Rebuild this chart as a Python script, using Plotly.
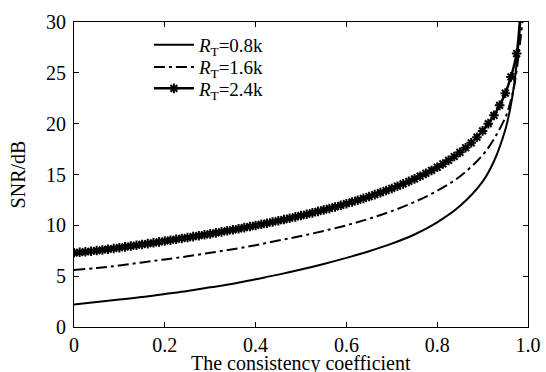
import plotly.graph_objects as go

# --- data ---
rho_solid = [0, 0.05, 0.1, 0.15, 0.2, 0.25, 0.3, 0.35, 0.4, 0.45, 0.5, 0.55, 0.6, 0.65,
             0.7, 0.75, 0.8, 0.85, 0.9, 0.925, 0.95, 0.96, 0.97, 0.98, 0.985]
snr_08k = [2.2, 2.45, 2.7, 2.95, 3.25, 3.55, 3.9, 4.25, 4.7, 5.15, 5.65, 6.2, 6.8, 7.45,
           8.2, 9.1, 10.3, 11.9, 14.3, 16.3, 19.4, 21.3, 24.0, 28.3, 31.0]

rho_dash = [0, 0.05, 0.1, 0.15, 0.2, 0.25, 0.3, 0.35, 0.4, 0.45, 0.5, 0.55, 0.6, 0.65,
            0.7, 0.75, 0.8, 0.85, 0.9, 0.925, 0.95, 0.96, 0.97, 0.98, 0.99]
snr_16k = [5.6, 5.8, 6.05, 6.35, 6.65, 6.95, 7.3, 7.65, 8.05, 8.5, 8.95, 9.45, 10.0, 10.65,
           11.4, 12.3, 13.4, 14.8, 16.9, 18.5, 20.6, 21.9, 23.8, 27.0, 31.0]

rho_star = [0.0, 0.0125, 0.025, 0.0375, 0.05, 0.0625, 0.075, 0.0875, 0.1, 0.1125, 0.125,
            0.1375, 0.15, 0.1625, 0.175, 0.1875, 0.2, 0.2125, 0.225, 0.2375, 0.25, 0.2625,
            0.275, 0.2875, 0.3, 0.3125, 0.325, 0.3375, 0.35, 0.3625, 0.375, 0.3875, 0.4,
            0.4125, 0.425, 0.4375, 0.45, 0.4625, 0.475, 0.4875, 0.5, 0.5125, 0.525, 0.5375,
            0.55, 0.5625, 0.575, 0.5875, 0.6, 0.6125, 0.625, 0.6375, 0.65, 0.6625, 0.675,
            0.6875, 0.7, 0.7125, 0.725, 0.7375, 0.75, 0.7625, 0.775, 0.7875, 0.8, 0.8125,
            0.825, 0.8375, 0.85, 0.8625, 0.875, 0.8875, 0.9, 0.9125, 0.925, 0.9375, 0.95,
            0.9625, 0.975, 0.9825]
snr_24k = [7.30, 7.35, 7.40, 7.45, 7.52, 7.58, 7.65, 7.72, 7.80, 7.88, 7.96,
           8.04, 8.12, 8.20, 8.28, 8.37, 8.46, 8.54, 8.63, 8.71, 8.80, 8.89,
           8.98, 9.07, 9.16, 9.26, 9.36, 9.46, 9.56, 9.66, 9.77, 9.88, 9.99,
           10.10, 10.21, 10.33, 10.45, 10.57, 10.70, 10.83, 10.96, 11.09, 11.23, 11.37,
           11.51, 11.66, 11.81, 11.97, 12.13, 12.30, 12.47, 12.65, 12.83, 13.02, 13.22,
           13.42, 13.63, 13.85, 14.08, 14.32, 14.57, 14.83, 15.11, 15.40, 15.71, 16.04,
           16.39, 16.77, 17.18, 17.63, 18.12, 18.67, 19.29, 20.00, 20.82, 21.80, 23.00,
           24.60, 26.90, 30.5]

names = ["<i>R</i><sub>T</sub>=0.8k", "<i>R</i><sub>T</sub>=1.6k", "<i>R</i><sub>T</sub>=2.4k"]
x_tickvals = [0, 0.2, 0.4, 0.6, 0.8, 1.0]
x_ticktext = ["0", "0.2", "0.4", "0.6", "0.8", "1.0"]
y_tickvals = [0, 5, 10, 15, 20, 25, 30]
x_title = "The consistency coefficient"
y_title = "SNR/dB"

FONT = "Liberation Serif, Times New Roman, serif"
FS = 20

fig = go.Figure()
fig.add_trace(go.Scatter(x=rho_solid, y=snr_08k, mode="lines", name=names[0], legend="legend",
                         line=dict(color="black", width=2, shape="spline")))
fig.add_trace(go.Scatter(x=rho_dash, y=snr_16k, mode="lines", name=names[1], legend="legend2",
                         line=dict(color="black", width=2, dash="11px,4px,3px,4px", shape="spline")))
fig.add_trace(go.Scatter(x=rho_star, y=snr_24k, mode="lines+markers", name=names[2], legend="legend3",
                         line=dict(color="black", width=2.5, shape="spline"),
                         marker=dict(symbol="asterisk-open", size=8, color="black",
                                     line=dict(color="black", width=2))))

leg_common = dict(x=0.165, xanchor="left", yanchor="middle", bgcolor="rgba(0,0,0,0)",
                  font=dict(family=FONT, size=19, color="black"), itemwidth=40,
                  borderwidth=0)
fig.update_layout(
    width=546, height=372,
    margin=dict(l=74, r=18, t=22, b=45, autoexpand=False),
    paper_bgcolor="white", plot_bgcolor="white",
    font=dict(family=FONT, size=FS, color="black"),
    showlegend=True,
    legend=dict(y=0.925, **leg_common),
    legend2=dict(y=0.852, **leg_common),
    legend3=dict(y=0.782, **leg_common),
)
fig.add_annotation(text=x_title, xref="paper", yref="paper", x=0.5, y=0,
                   xanchor="center", yanchor="top", yshift=-23, showarrow=False,
                   font=dict(family=FONT, size=FS, color="black"))
fig.update_xaxes(range=[0, 1], tickvals=x_tickvals, ticktext=x_ticktext,
                 ticks="inside", ticklen=5, tickcolor="black", automargin=False,
                 showline=True, linecolor="black", linewidth=1, mirror="ticks",
                 showgrid=False, zeroline=False, ticklabelstandoff=0,
                 tickfont=dict(family=FONT, size=FS))
fig.update_yaxes(range=[0, 30], tickvals=y_tickvals,
                 ticks="inside", ticklen=5, tickcolor="black", automargin=False,
                 showline=True, linecolor="black", linewidth=1, mirror="ticks",
                 showgrid=False, zeroline=False, ticklabelstandoff=3,
                 title=dict(text=y_title, font=dict(family=FONT, size=FS)),
                 tickfont=dict(family=FONT, size=FS))

fig.write_html("out.html")
